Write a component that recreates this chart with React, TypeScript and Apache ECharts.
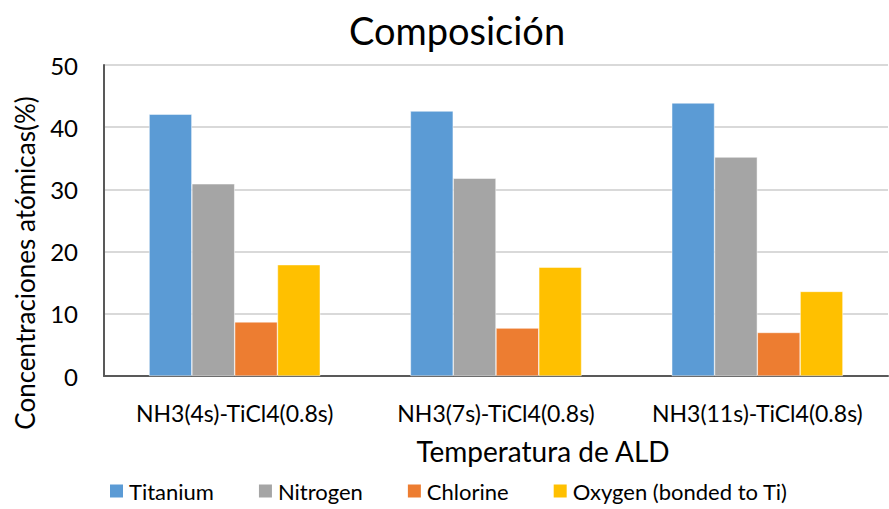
import React, { useEffect, useRef } from "react";
import * as echarts from "echarts";

const categories = ["NH3(4s)-TiCl4(0.8s)", "NH3(7s)-TiCl4(0.8s)", "NH3(11s)-TiCl4(0.8s)"];
const titanium = [42.1, 42.6, 43.9];
const nitrogen = [30.9, 31.8, 35.2];
const chlorine = [8.7, 7.7, 7.0];
const oxygen = [17.9, 17.5, 13.6];
const seriesNames = ["Titanium", "Nitrogen", "Chlorine", "Oxygen (bonded to Ti)"];
const colors = ["#5B9BD5", "#A5A5A5", "#ED7D31", "#FFC000"];

const FONT = "Lato, 'Open Sans', sans-serif";

export default function App() {
  const ref = useRef<HTMLDivElement>(null);
  useEffect(() => {
    if (!ref.current) return;
    const chart = echarts.init(ref.current, null, { renderer: "svg" });
    const values = [titanium, nitrogen, chlorine, oxygen];
    chart.setOption({
      animation: false,
      backgroundColor: "#ffffff",
      textStyle: { fontFamily: FONT },
      title: {
        text: "Composición",
        left: 452,
        top: 6,
        textAlign: "center",
        textStyle: { fontFamily: FONT, fontSize: 38, fontWeight: "normal", color: "#000" },
      },
      legend: {
        data: seriesNames,
        left: 108,
        top: 479,
        padding: 0,
        itemWidth: 15,
        itemHeight: 15,
        itemGap: 43,
        icon: "rect",
        textStyle: { fontFamily: FONT, fontSize: 22, lineHeight: 24, color: "#000" },
      },
      grid: { left: 104, right: 1, top: 65, bottom: 133, containLabel: false },
      xAxis: {
        type: "category",
        data: categories,
        axisLine: { lineStyle: { color: "#595959", width: 2 } },
        axisTick: { show: false },
        axisLabel: { interval: 0, hideOverlap: false, fontFamily: FONT, fontSize: 23, color: "#000", margin: 25 },
      },
      yAxis: {
        type: "value",
        min: 0,
        max: 50,
        interval: 10,
        axisLine: { show: true, lineStyle: { color: "#595959", width: 2 } },
        axisTick: { show: false },
        splitLine: { lineStyle: { color: "#D9D9D9", width: 2 } },
        axisLabel: { fontFamily: FONT, fontSize: 24, color: "#000", margin: 26 },
      },
      graphic: [
        {
          type: "text",
          x: 25,
          y: 263,
          rotation: Math.PI / 2,
          style: {
            text: "Concentraciones atómicas(%)",
            fontFamily: FONT,
            fontSize: 26,
            fill: "#000",
            align: "center",
            verticalAlign: "middle",
          },
        },
        {
          type: "text",
          x: 543,
          y: 451,
          style: {
            text: "Temperatura de ALD",
            fontFamily: FONT,
            fontSize: 28,
            fill: "#000",
            align: "center",
            verticalAlign: "middle",
          },
        },
      ],
      series: values.map((v, i) => ({
        name: seriesNames[i],
        type: "bar",
        data: v,
        barGap: "0%",
        barCategoryGap: "34.5%",
        itemStyle: { color: colors[i], borderColor: "#ffffff", borderWidth: 0.5 },
      })),
    });
    return () => chart.dispose();
  }, []);
  return <div ref={ref} style={{ width: 889, height: 509, position: "absolute", left: 0, top: 0 }} />;
}
